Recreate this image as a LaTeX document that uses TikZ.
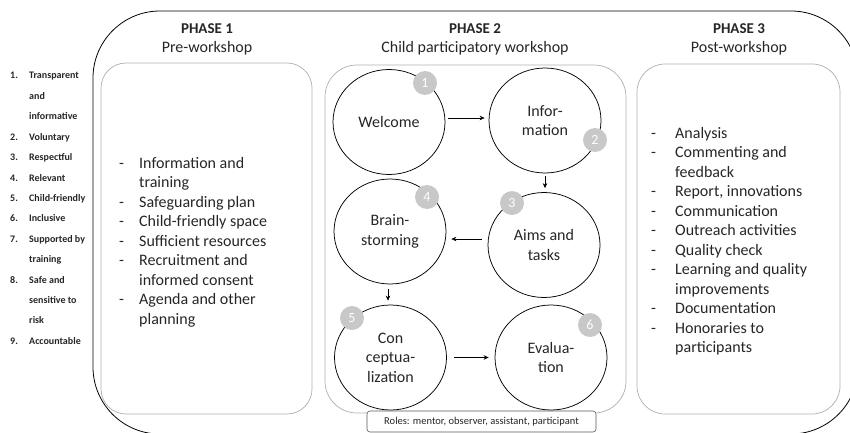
\documentclass[tikz,border=0pt]{standalone}
\usepackage{fontspec}
\setmainfont{Carlito}
\usetikzlibrary{shapes.geometric,arrows.meta,calc}
\definecolor{boxgray}{RGB}{175,175,175}
\definecolor{badgegray}{RGB}{200,200,200}
\definecolor{rolegray}{RGB}{90,90,90}
\definecolor{txt}{RGB}{38,38,38}
\begin{document}
\begin{tikzpicture}[x=1pt,y=-1pt,
 phasebox/.style={draw=boxgray,line width=0.7pt,rounded corners=#1,inner sep=0pt},
 stage/.style={ellipse,draw=black,line width=0.75pt,minimum width=112pt,minimum height=105pt,inner sep=0pt,align=center,font=\fontsize{16}{19.5}\selectfont,text=txt},
 badge/.style={circle,fill=badgegray,minimum size=24pt,inner sep=0pt,text=white,font=\fontsize{14}{16}\selectfont},
 arr/.style={-{Stealth[length=5pt,width=4.5pt]},line width=0.6pt},
 head/.style={font=\fontsize{15}{18}\selectfont\bfseries,text=txt,anchor=base,inner sep=0pt},
 sub/.style={font=\fontsize{16}{19}\selectfont,text=txt,anchor=base,inner sep=0pt},
 listtext/.style={anchor=base west,inner sep=0pt,text=txt,font=\fontsize{16}{19.5}\selectfont},
 ]
\useasboundingbox (0,0) rectangle (850,433);
\clip (0,0) rectangle (850,433);

% outer frame
\draw[line width=0.8pt,rounded corners=67pt] (93,11) rectangle (858,434);

% phase boxes
\node[phasebox=25pt,minimum width=211pt,minimum height=351pt] (p1box) at (206.5,238.5) {};
\node[phasebox=32pt,minimum width=301pt,minimum height=348pt] (p2box) at (475.5,239) {};
\node[phasebox=28pt,minimum width=203pt,minimum height=350pt] (p3box) at (738.5,239) {};

% headings
\node[head] (h1) at (207,34) {PHASE 1};
\node[sub] (s1) at (207,53) {Pre-workshop};
\node[head] (h2) at (475,34) {PHASE 2};
\node[sub] (s2) at (475,53) {Child participatory workshop};
\node[head] (h3) at (739,34) {PHASE 3};
\node[sub] (s3) at (739,53) {Post-workshop};

% principles list
\node[anchor=base west,inner sep=0pt,text=txt,font=\fontsize{10}{20.4}\selectfont\bfseries] (principles) at (10,79) {%
\begin{tabular}[t]{@{}p{19pt}@{}l@{}}
1. & Transparent\\
 & and\\
 & informative\\
2. & Voluntary\\
3. & Respectful\\
4. & Relevant\\
5. & Child-friendly\\
6. & Inclusive\\
7. & Supported by\\
 & training\\
8. & Safe and\\
 & sensitive to\\
 & risk\\
9. & Accountable
\end{tabular}};

% phase 1 list
\node[listtext] (p1list) at (119,168) {%
\begin{tabular}[t]{@{}p{20pt}@{}l@{}}
- & Information and\\
 & training\\
- & Safeguarding plan\\
- & Child-friendly space\\
- & Sufficient resources\\
- & Recruitment and\\
 & informed consent\\
- & Agenda and other\\
 & planning
\end{tabular}};

% phase 3 list
\node[listtext] (p3list) at (651,138) {%
\begin{tabular}[t]{@{}p{24pt}@{}l@{}}
- & Analysis\\
- & Commenting and\\
 & feedback\\
- & Report, innovations\\
- & Communication\\
- & Outreach activities\\
- & Quality check\\
- & Learning and quality\\
 & improvements\\
- & Documentation\\
- & Honoraries to\\
 & participants
\end{tabular}};

% stages
\node[stage] (welcome) at (389,122) {Welcome};
\node[stage] (info) at (545,120.5) {Infor-\\mation};
\node[stage] (aims) at (544,245) {Aims and\\tasks};
\node[stage] (brain) at (390,231.5) {Brain-\\storming};
\node[stage] (concept) at (390.5,357.5) {Con\\ceptua-\\lization};
\node[stage] (eval) at (551,357.5) {Evalua-\\tion};

% badges
\node[badge] (b1) at (425,83) {1};
\node[badge] (b2) at (595,140) {2};
\node[badge] (b3) at (512,203) {3};
\node[badge] (b4) at (427,197) {4};
\node[badge] (b5) at (352,318) {5};
\node[badge] (b6) at (590,325) {6};

% arrows
\draw[arr] ([shift={(3,-4)}]welcome.east) -- ([shift={(-4,-2.5)}]info.west);
\draw[arr] ([shift={(0,3)}]info.south) -- ([shift={(1,-4)}]aims.north);
\draw[arr] ([shift={(-6,-6)}]aims.west) -- ([shift={(5,7.5)}]brain.east);
\draw[arr] ([shift={(-2,5)}]brain.south) -- ([shift={(-2.5,-4)}]concept.north);
\draw[arr] ([shift={(7,0)}]concept.east) -- ([shift={(-6,0)}]eval.west);

% roles
\node[draw=rolegray,fill=white,rounded corners=3pt,line width=0.6pt,minimum width=229pt,minimum height=21pt,inner sep=0pt,text=txt,font=\fontsize{10.5}{12}\selectfont] (roles) at (481.5,421.5) {Roles: mentor, observer, assistant, participant};
\end{tikzpicture}
\end{document}
